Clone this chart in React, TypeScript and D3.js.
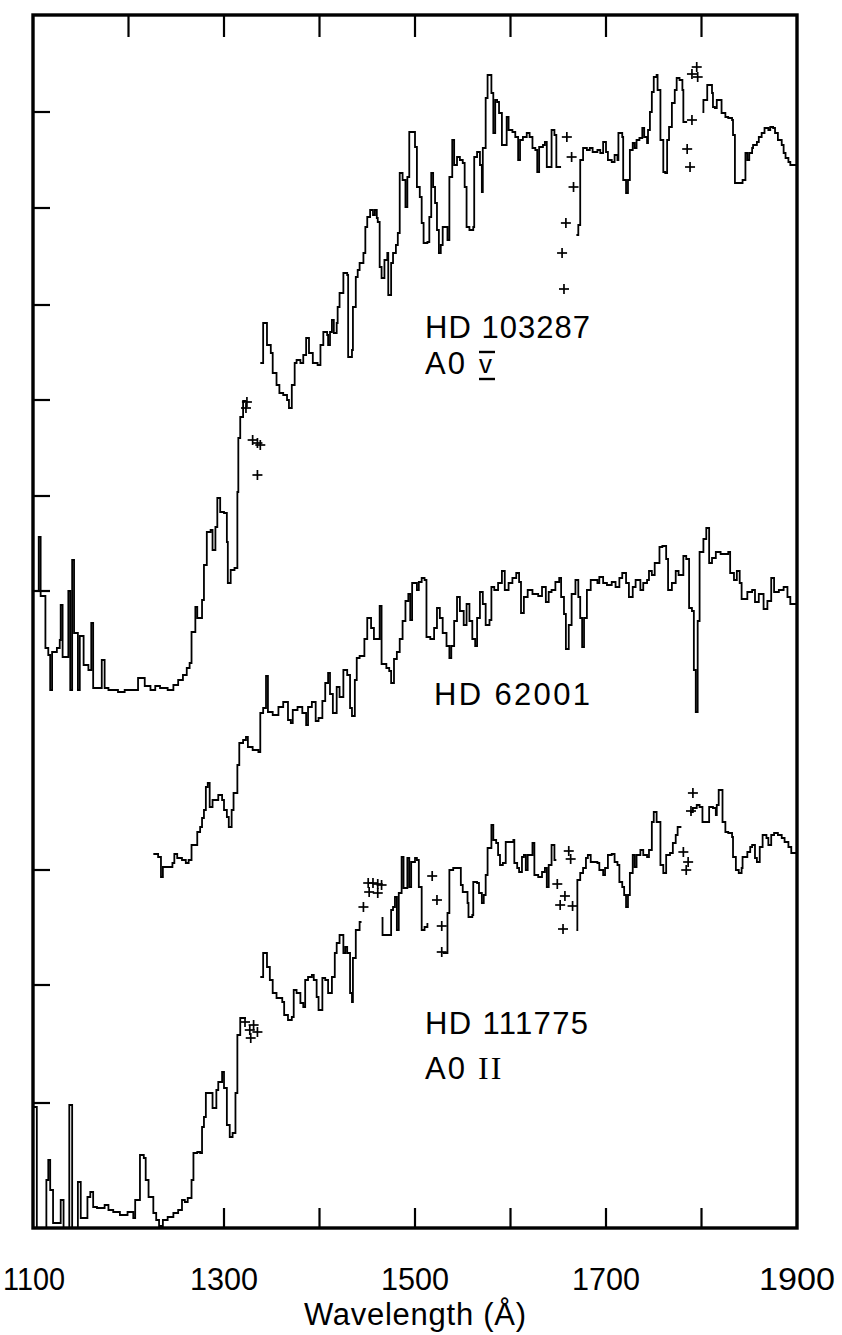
import React from "react";
import * as d3 from "d3";

// ---------- axis data ----------
const X_DOMAIN: [number, number] = [1100, 1900];
const Y_DOMAIN: [number, number] = [0, 1213];
const TOP_TICKS = [1200, 1300, 1400, 1500, 1600, 1700, 1800];
const BOTTOM_TICKS = [1300, 1400, 1500, 1600, 1700, 1800];
const X_LABELS = [1100, 1300, 1500, 1700, 1900];
const LEFT_TICKS = [1116, 1020, 923, 828, 732, 637, 358, 243, 125];

type P = [number, number];

// ---------- HD 103287 (A0 V) ----------
const hd103287_s1: P[] = [
  [1100, 637], [1106, 691], [1108, 632], [1113, 580], [1116, 573], [1118, 538], [1120, 576],
  [1125, 580], [1128, 588], [1129, 623], [1131, 571], [1137, 637], [1139, 538], [1141, 668],
  [1143, 595], [1147, 538], [1149, 592], [1153, 563], [1158, 558], [1161, 605], [1163, 540],
  [1172, 568], [1175, 540], [1179, 538], [1189, 536], [1196, 538], [1210, 550], [1217, 542],
  [1223, 538], [1228, 542], [1233, 540], [1241, 538], [1247, 543], [1252, 548], [1257, 553],
  [1261, 560], [1264, 565], [1266, 596], [1270, 621], [1272, 610], [1277, 628], [1279, 663],
  [1282, 696], [1286, 698], [1288, 678], [1291, 701], [1293, 730], [1296, 716], [1300, 715],
  [1303, 686], [1304, 645], [1307, 658], [1311, 660], [1314, 736], [1315, 790], [1317, 811],
  [1320, 827], [1323, 827],
];
const hd103287_s2: P[] = [
  [1338, 865], [1341, 905], [1345, 883], [1349, 875], [1351, 855], [1355, 843], [1358, 835],
  [1362, 833], [1366, 828], [1368, 820], [1371, 843], [1374, 865], [1376, 868], [1380, 865],
  [1383, 873], [1386, 890], [1389, 875], [1393, 865], [1398, 863], [1401, 883], [1404, 896],
  [1408, 893], [1409, 883], [1411, 896], [1413, 908], [1415, 895], [1418, 905], [1419, 921],
  [1421, 935], [1425, 955], [1429, 953], [1430, 871], [1434, 878], [1435, 921], [1438, 951],
  [1440, 958], [1442, 965], [1446, 975], [1448, 1001], [1450, 1011], [1453, 1018], [1456, 1013],
  [1458, 1018], [1460, 1010], [1461, 1006], [1463, 961], [1465, 950], [1468, 968], [1471, 975],
  [1472, 933], [1475, 965], [1477, 975], [1480, 983], [1482, 995], [1484, 1055], [1487, 1048],
  [1490, 1021], [1492, 1051], [1494, 1096], [1498, 1096], [1500, 1081], [1502, 1041],
  [1505, 1031], [1507, 1005], [1509, 985], [1513, 986], [1515, 1011], [1517, 1055], [1519, 1041],
  [1521, 1025], [1523, 998], [1525, 975], [1527, 983], [1529, 1001], [1534, 988], [1536, 1051],
  [1539, 1088], [1541, 1063], [1544, 1071], [1547, 1068], [1550, 1065], [1552, 1041],
  [1554, 1001], [1557, 998], [1561, 1001], [1562, 1071], [1565, 1076], [1568, 1063],
  [1570, 1036], [1571, 1080], [1574, 1130], [1576, 1153], [1580, 1135], [1582, 1095],
  [1584, 1128], [1586, 1126], [1588, 1115], [1591, 1083], [1594, 1083], [1596, 1111],
  [1598, 1098], [1602, 1096], [1605, 1091], [1608, 1068], [1610, 1088], [1613, 1091],
  [1617, 1095], [1620, 1091], [1623, 1080], [1626, 1078], [1628, 1056], [1630, 1081],
  [1634, 1083], [1636, 1086], [1638, 1061], [1641, 1061], [1643, 1098], [1646, 1093],
  [1648, 1061], [1652, 1060],
];
const hd103287_s3: P[] = [
  [1669, 993], [1671, 1003], [1673, 1068], [1676, 1080], [1680, 1078], [1683, 1080], [1686, 1076],
  [1691, 1078], [1694, 1075], [1697, 1086], [1700, 1076], [1702, 1068], [1706, 1066], [1709, 1073],
  [1712, 1068], [1713, 1095], [1717, 1091], [1718, 1048], [1721, 1035], [1723, 1048], [1725, 1078],
  [1728, 1085], [1730, 1080], [1732, 1088], [1735, 1090], [1738, 1100], [1740, 1091], [1743, 1085],
  [1744, 1098], [1746, 1116], [1748, 1136], [1750, 1151], [1753, 1153], [1754, 1138], [1757, 1088],
  [1760, 1056], [1762, 1055], [1764, 1088], [1766, 1101], [1769, 1125], [1772, 1138], [1774, 1150],
  [1777, 1148], [1780, 1138], [1781, 1106], [1784, 1105],
];
const hd103287_s4: P[] = [
  [1801, 1116], [1802, 1128], [1806, 1143], [1809, 1143], [1811, 1135], [1812, 1121], [1814, 1120],
  [1816, 1128], [1819, 1128], [1821, 1115], [1825, 1111], [1828, 1110], [1832, 1108], [1833, 1093],
  [1835, 1045], [1843, 1048], [1846, 1075], [1848, 1068], [1850, 1075], [1853, 1080], [1854, 1083],
  [1858, 1086], [1860, 1091], [1863, 1095], [1866, 1100], [1870, 1098], [1872, 1101], [1875, 1100],
  [1877, 1095], [1880, 1088], [1884, 1083], [1886, 1075], [1888, 1070], [1891, 1066], [1893, 1063],
  [1900, 1061],
];
const hd103287_cross: P[] = [
  [1324, 826], [1323, 820], [1330, 788], [1335, 785], [1338, 783], [1335, 753],
  [1659, 1091], [1664, 1071], [1666, 1041], [1658, 1005], [1654, 975], [1656, 939],
  [1795, 1161], [1790, 1154], [1796, 1151], [1790, 1108], [1785, 1079], [1788, 1061],
];

// ---------- HD 62001 ----------
const hd62001_s1: P[] = [
  [1226, 374], [1231, 371], [1234, 351], [1236, 361], [1246, 365], [1248, 374], [1251, 370],
  [1256, 368], [1260, 365], [1263, 368], [1266, 383], [1272, 396], [1275, 401], [1277, 410],
  [1279, 418], [1281, 441], [1283, 445], [1285, 421], [1288, 428], [1294, 433], [1298, 428],
  [1300, 418], [1303, 411], [1305, 401], [1308, 418], [1310, 435], [1314, 463], [1316, 485],
  [1320, 488], [1323, 491], [1325, 481], [1330, 478], [1336, 476], [1338, 515], [1341, 520],
  [1344, 552], [1346, 516], [1351, 513], [1357, 521], [1362, 526], [1367, 508], [1370, 505],
  [1372, 518], [1377, 521], [1382, 515], [1386, 503], [1388, 521], [1392, 526], [1396, 507],
  [1399, 510], [1403, 527], [1406, 545], [1409, 555], [1411, 534], [1414, 515], [1418, 541],
  [1421, 531], [1425, 558], [1429, 553], [1432, 520], [1434, 512], [1437, 548], [1439, 570],
  [1442, 572], [1447, 589], [1450, 610], [1454, 600], [1457, 589], [1461, 589], [1463, 622],
  [1465, 564], [1470, 560], [1473, 557], [1475, 545], [1478, 569], [1481, 576], [1484, 589],
  [1487, 607], [1490, 627], [1493, 634], [1495, 608], [1497, 645], [1502, 638], [1504, 646],
  [1507, 650], [1510, 648], [1512, 591], [1516, 589], [1520, 600], [1523, 620], [1526, 610],
  [1529, 595], [1533, 582], [1536, 570], [1538, 582], [1541, 607], [1544, 631], [1547, 617],
  [1551, 603], [1554, 624], [1557, 607], [1560, 589], [1563, 582], [1565, 610], [1568, 636],
  [1571, 624], [1574, 603], [1578, 608], [1580, 641], [1583, 638], [1587, 645], [1591, 657],
  [1594, 638], [1598, 645], [1602, 650], [1606, 655], [1609, 646], [1611, 615], [1614, 631],
  [1618, 638], [1623, 634], [1629, 632], [1633, 641], [1637, 626], [1640, 636], [1643, 638],
  [1647, 646], [1651, 650], [1653, 631], [1656, 614], [1658, 579], [1661, 603], [1664, 634],
  [1668, 648], [1671, 631], [1673, 610], [1675, 581], [1677, 610], [1680, 638], [1684, 648],
  [1691, 645], [1693, 651], [1697, 645], [1701, 643], [1706, 646], [1710, 641], [1714, 650],
  [1717, 655], [1721, 645], [1724, 631], [1728, 641], [1731, 648], [1736, 638], [1739, 645],
  [1743, 648], [1745, 657], [1748, 653], [1751, 665], [1756, 681], [1759, 682], [1763, 669],
  [1765, 638], [1769, 645], [1773, 657], [1776, 653], [1781, 672], [1784, 669], [1787, 620],
  [1790, 617], [1792, 558], [1794, 516], [1796, 607], [1798, 676], [1802, 689], [1805, 700],
  [1808, 665], [1811, 670], [1815, 676], [1820, 674], [1828, 676], [1830, 655], [1834, 648],
  [1837, 657], [1840, 645], [1842, 629], [1848, 636], [1853, 638], [1856, 626], [1860, 634],
  [1865, 619], [1869, 627], [1873, 650], [1876, 636], [1881, 638], [1886, 641], [1890, 631],
  [1893, 624], [1900, 624],
];

// ---------- HD 111775 (A0 II) ----------
const hd111775_s1: P[] = [
  [1100, 121], [1104, 0], [1114, 48], [1116, 68], [1118, 38], [1121, 5], [1129, 28], [1132, 0],
  [1138, 123], [1141, 0], [1147, 46], [1150, 10], [1157, 31], [1160, 36], [1163, 21], [1167, 20],
  [1175, 23], [1179, 18], [1184, 16], [1191, 13], [1199, 16], [1205, 10], [1207, 28], [1212, 73],
  [1216, 70], [1218, 48], [1221, 31], [1226, 15], [1229, 8], [1232, 2], [1236, 8], [1241, 11],
  [1247, 15], [1252, 18], [1256, 28], [1259, 26], [1262, 30], [1266, 48], [1268, 75], [1272, 76],
  [1275, 75], [1277, 101], [1279, 111], [1281, 135], [1285, 135], [1288, 120], [1292, 138],
  [1294, 146], [1298, 156], [1300, 140], [1303, 103], [1306, 91], [1309, 95], [1312, 135],
  [1314, 193], [1317, 210], [1323, 210],
];
const hd111775_s2: P[] = [
  [1338, 251], [1341, 275], [1345, 261], [1348, 248], [1351, 235], [1355, 230], [1361, 226],
  [1363, 213], [1367, 208], [1371, 211], [1373, 238], [1376, 235], [1380, 225], [1383, 221],
  [1385, 248], [1388, 251], [1392, 253], [1394, 248], [1397, 231], [1399, 218], [1403, 250],
  [1406, 248], [1409, 235], [1413, 251], [1416, 275], [1418, 285], [1421, 293], [1425, 275],
  [1427, 281], [1429, 275], [1432, 235], [1434, 226], [1435, 270], [1438, 298], [1442, 306],
  [1444, 306],
];
const hd111775_s3: P[] = [
  [1465, 310], [1466, 293], [1474, 293], [1475, 318], [1477, 321], [1479, 331], [1481, 298],
  [1483, 335], [1486, 371], [1488, 340], [1492, 370], [1494, 341], [1496, 366], [1500, 370],
  [1502, 368], [1504, 341], [1507, 298], [1510, 301], [1513, 305],
];
const hd111775_s4: P[] = [
  [1529, 275], [1534, 315], [1536, 358], [1540, 360], [1545, 360], [1548, 343], [1550, 336],
  [1555, 325], [1556, 311], [1560, 313], [1561, 346], [1565, 345], [1567, 335], [1570, 325],
  [1572, 333], [1574, 353], [1576, 380], [1580, 403], [1582, 388], [1585, 385], [1587, 373],
  [1589, 363], [1592, 365], [1595, 386], [1599, 386], [1603, 388], [1604, 365], [1607, 360],
  [1609, 356], [1612, 371], [1614, 373], [1616, 358], [1618, 373], [1623, 385], [1625, 353],
  [1629, 351], [1633, 356], [1636, 360], [1638, 341], [1640, 363], [1643, 383], [1646, 368],
  [1648, 368],
];
const hd111775_s5: P[] = [
  [1669, 298], [1670, 348], [1673, 355], [1676, 360], [1679, 370], [1681, 373], [1684, 366],
  [1691, 365], [1693, 358], [1697, 353], [1699, 360], [1702, 373], [1706, 374], [1709, 366],
  [1712, 363], [1714, 346], [1717, 341], [1719, 333], [1721, 321], [1723, 333], [1725, 355],
  [1728, 373], [1730, 361], [1732, 373], [1736, 378], [1739, 373], [1743, 371], [1745, 378],
  [1748, 406], [1750, 416], [1753, 406], [1757, 363], [1760, 355], [1763, 373], [1767, 375],
  [1770, 385], [1773, 393], [1775, 401], [1778, 402],
];
const hd111775_s6: P[] = [
  [1788, 416], [1791, 420], [1795, 423], [1798, 421], [1801, 406], [1806, 406], [1808, 421],
  [1812, 420], [1815, 413], [1816, 423], [1818, 438], [1821, 438], [1822, 406], [1825, 396],
  [1828, 395], [1832, 391], [1833, 371], [1836, 358], [1839, 355], [1842, 360], [1843, 371],
  [1848, 376], [1851, 381], [1853, 383], [1856, 370], [1858, 366], [1861, 381], [1864, 393],
  [1868, 390], [1870, 383], [1873, 393], [1876, 395], [1880, 393], [1884, 390], [1887, 386],
  [1891, 381], [1894, 375], [1900, 375],
];
const hd111775_cross: P[] = [
  [1322, 206], [1327, 198], [1331, 203], [1335, 196], [1328, 190],
  [1446, 321], [1451, 345], [1456, 345], [1461, 344], [1465, 343], [1452, 336], [1461, 335],
  [1518, 352], [1523, 328], [1528, 302], [1528, 276],
  [1661, 377], [1663, 369], [1649, 344], [1657, 332], [1652, 323], [1665, 322], [1655, 299],
  [1791, 435], [1789, 417], [1781, 376], [1786, 366], [1784, 358],
];

const SEGMENTS: P[][] = [
  hd103287_s1, hd103287_s2, hd103287_s3, hd103287_s4,
  hd62001_s1,
  hd111775_s1, hd111775_s2, hd111775_s3, hd111775_s4, hd111775_s5, hd111775_s6,
];
const CROSSES: P[] = [...hd103287_cross, ...hd111775_cross];

const W = 842;
const H = 1335;
const LEFT = 33;
const RIGHT = 797;
const TOP = 15;
const BOTTOM = 1228;
const FONT = "'Liberation Sans', Arial, sans-serif";

export default function App() {
  const x = d3.scaleLinear().domain(X_DOMAIN).range([LEFT, RIGHT]);
  const y = d3.scaleLinear().domain(Y_DOMAIN).range([BOTTOM, TOP]);
  const line = d3
    .line<P>()
    .x((d) => x(d[0]))
    .y((d) => y(d[1]))
    .curve(d3.curveStepAfter);

  const cs = 5;
  return (
    <svg
      width={W}
      height={H}
      style={{ position: "absolute", left: 0, top: 0, display: "block", background: "#fff" }}
    >
      <rect x={0} y={0} width={W} height={H} fill="#fff" />
      {/* spectra */}
      <g fill="none" stroke="#000" strokeWidth={1.8} strokeLinejoin="miter">
        {SEGMENTS.map((s, i) => (
          <path key={i} d={line(s) || ""} />
        ))}
      </g>
      <g stroke="#000" strokeWidth={1.7}>
        {CROSSES.map((c, i) => (
          <g key={i}>
            <line x1={x(c[0]) - cs} x2={x(c[0]) + cs} y1={y(c[1])} y2={y(c[1])} />
            <line x1={x(c[0])} x2={x(c[0])} y1={y(c[1]) - cs} y2={y(c[1]) + cs} />
          </g>
        ))}
      </g>
      {/* frame */}
      <rect
        x={LEFT}
        y={TOP}
        width={RIGHT - LEFT}
        height={BOTTOM - TOP}
        fill="none"
        stroke="#000"
        strokeWidth={3.4}
      />
      {/* ticks */}
      <g stroke="#000" strokeWidth={2.2}>
        {TOP_TICKS.map((t) => (
          <line key={"t" + t} x1={x(t)} x2={x(t)} y1={TOP} y2={TOP + 22} />
        ))}
        {BOTTOM_TICKS.map((t) => (
          <line key={"b" + t} x1={x(t)} x2={x(t)} y1={BOTTOM} y2={BOTTOM - 20} />
        ))}
        {LEFT_TICKS.map((t) => (
          <line key={"l" + t} x1={LEFT} x2={LEFT + 17} y1={y(t)} y2={y(t)} />
        ))}
      </g>
      {/* x tick labels */}
      <g fontFamily={FONT} fontSize={32} fill="#000" textAnchor="middle">
        {X_LABELS.map((t) => (
          <text
            key={t}
            x={t === 1100 ? x(t) + 1 : x(t)}
            y={1290}
            textLength={t === 1100 ? 62 : t === 1900 ? 76 : 68}
            lengthAdjust="spacingAndGlyphs"
          >
            {t}
          </text>
        ))}
        <text x={415} y={1325} fontSize={31} textLength={222} lengthAdjust="spacing">
          Wavelength (Å)
        </text>
      </g>
      {/* star labels */}
      <g fontFamily={FONT} fontSize={31} fill="#000">
        <text x={425} y={338} textLength={165} lengthAdjust="spacing">HD 103287</text>
        <text x={425} y={374} letterSpacing={2}>A0</text>
        <text x={479} y={373} fontSize={26}>v</text>
        <text x={434} y={705} textLength={156} lengthAdjust="spacing">HD 62001</text>
        <text x={425} y={1034} textLength={163} lengthAdjust="spacing">HD 111775</text>
        <text x={425} y={1079} letterSpacing={2}>A0</text>
        <text x={478} y={1079} fontFamily="'Liberation Serif', serif" fontSize={32} letterSpacing={2}>
          II
        </text>
      </g>
      <g stroke="#000" strokeWidth={2.4}>
        <line x1={479} x2={495} y1={352} y2={352} />
        <line x1={479} x2={495} y1={379} y2={379} />
      </g>
    </svg>
  );
}
